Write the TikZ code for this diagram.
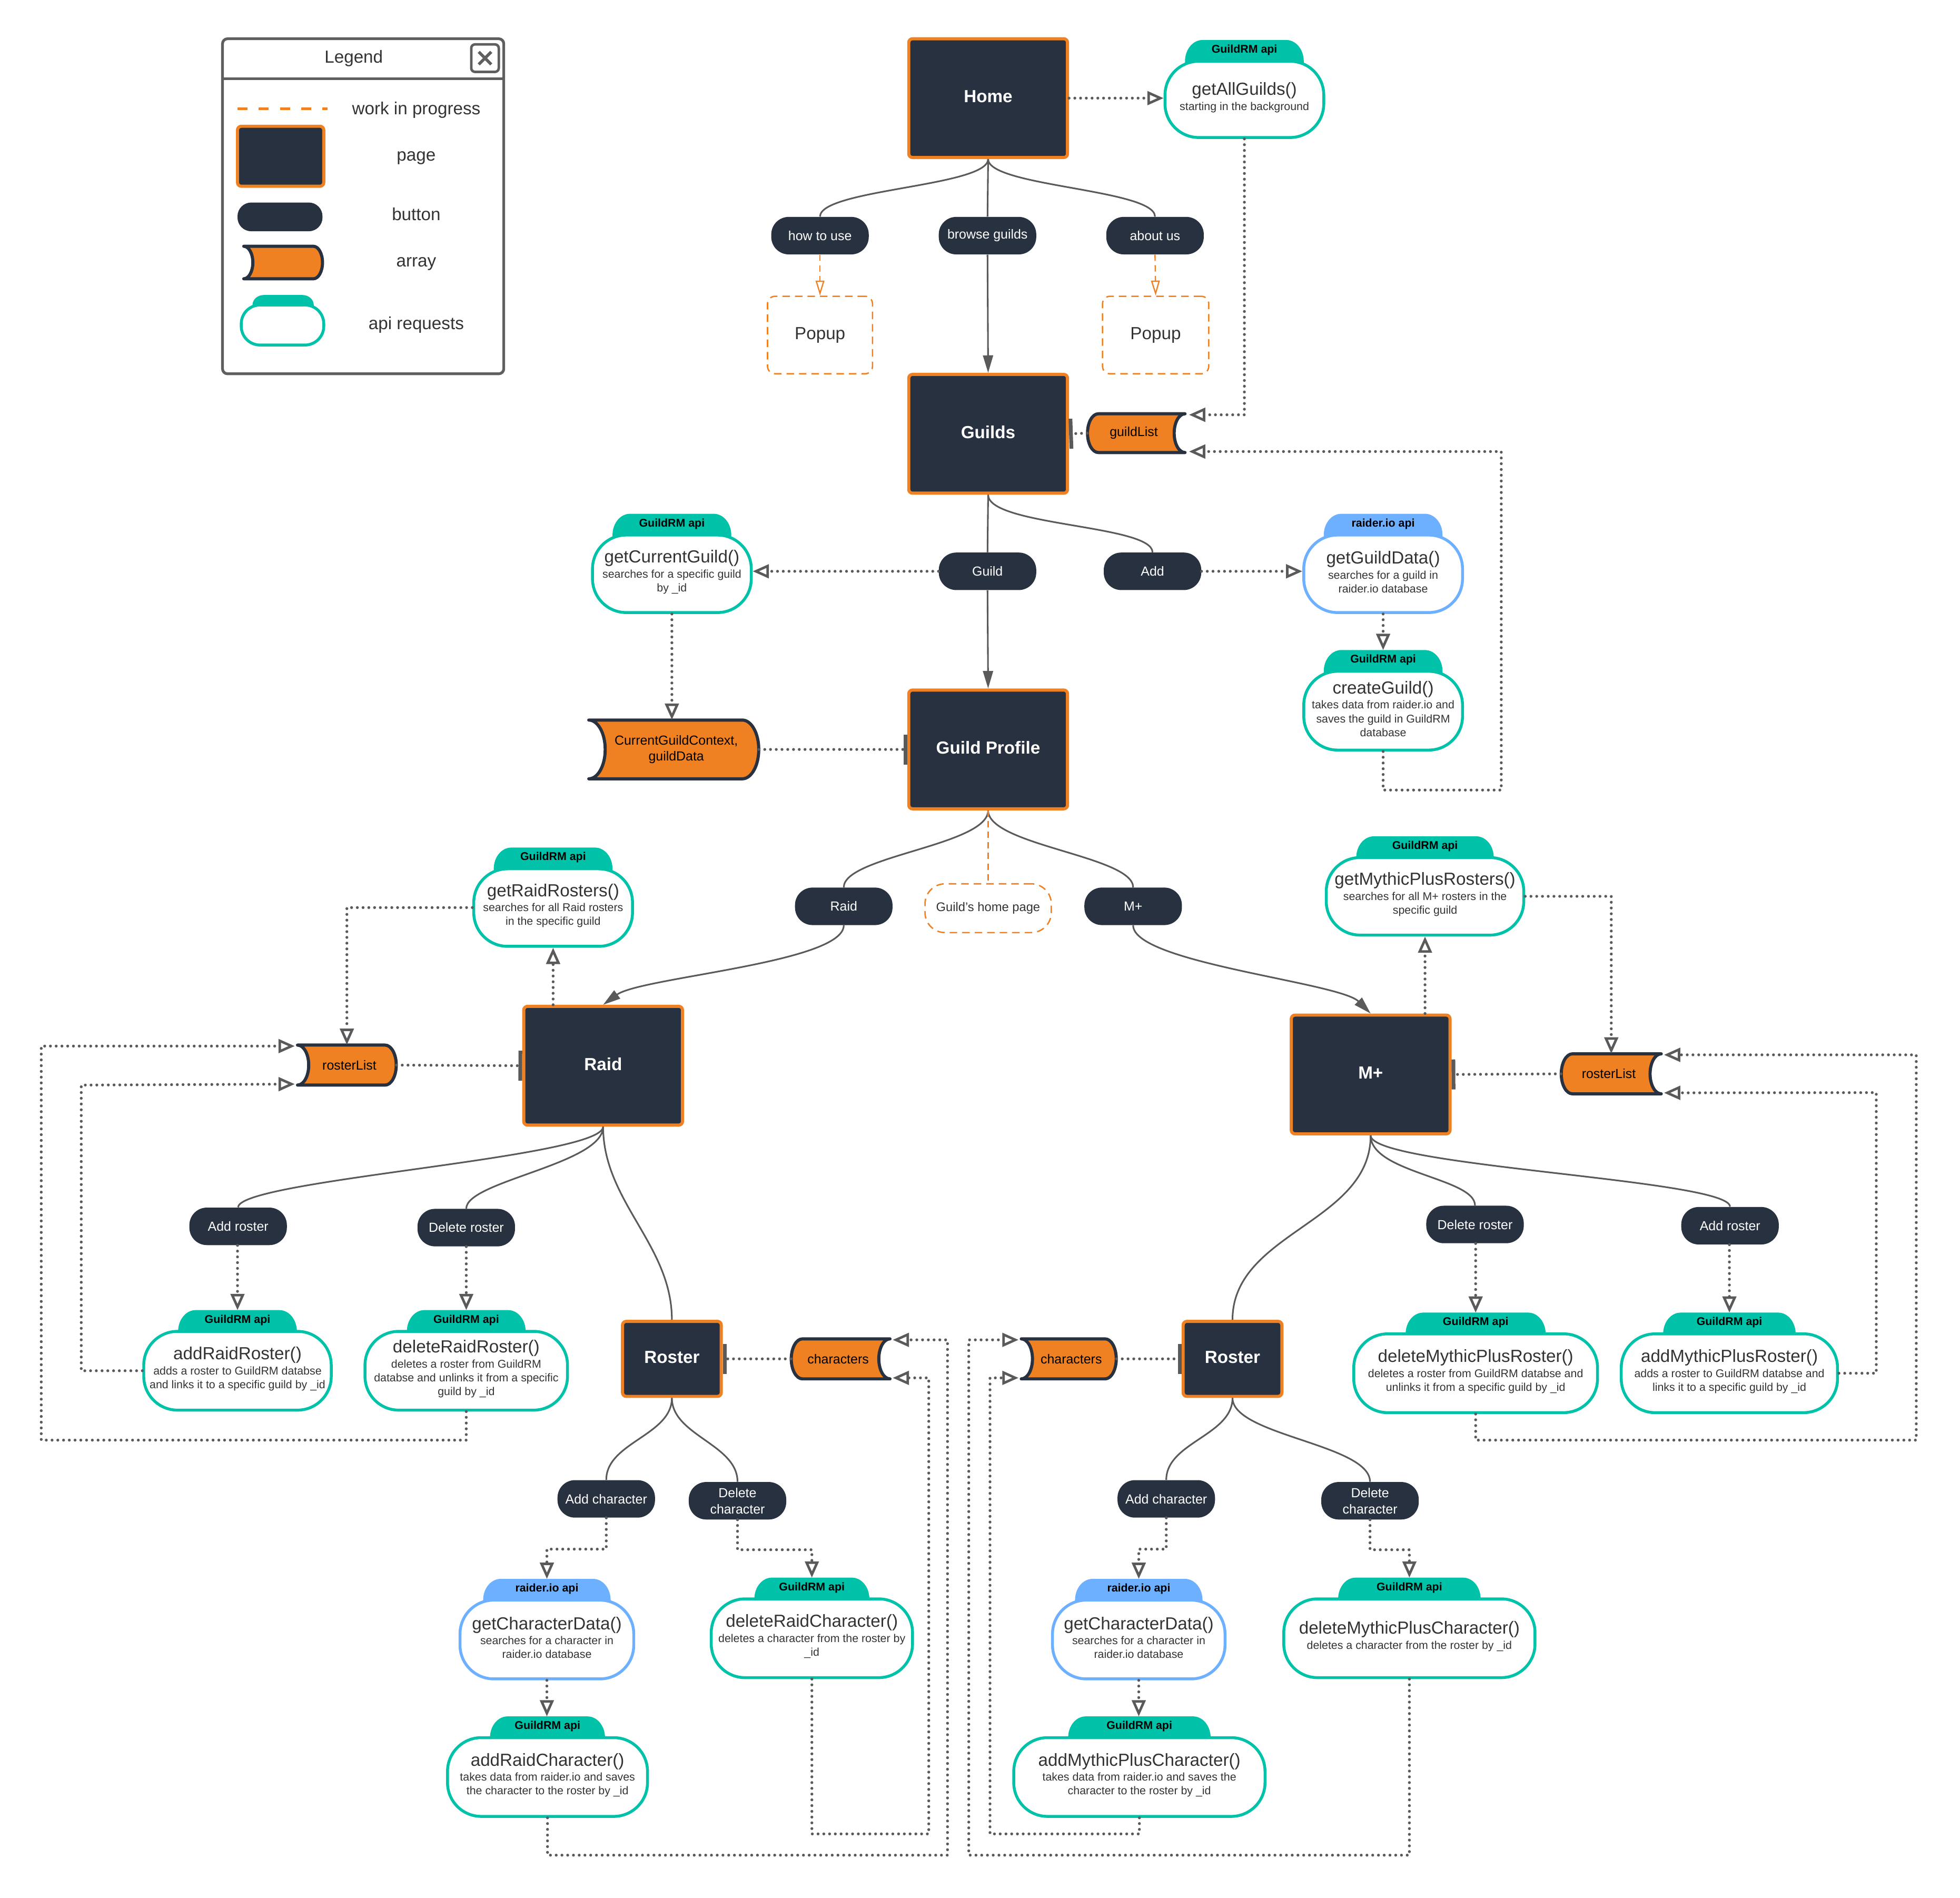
\documentclass[tikz,border=0pt]{standalone}
\usepackage{fontspec}
\setmainfont{Liberation Sans}
\usetikzlibrary{arrows.meta,calc}

\definecolor{navy}{HTML}{283140}
\definecolor{orng}{HTML}{F08122}
\definecolor{apiteal}{HTML}{00C2A8}
\definecolor{apiblue}{HTML}{6DB0FF}
\definecolor{lineg}{HTML}{5A5A5A}
\definecolor{lgray}{HTML}{5F5F5F}
\definecolor{txt}{HTML}{333333}

\newcommand\fTitle{\fontsize{14}{16}\selectfont}
\newcommand\fDesc{\fontsize{9}{11}\selectfont}
\newcommand\fTab{\fontsize{9}{10}\selectfont\bfseries}
\newcommand\fBtn{\fontsize{10.5}{13}\selectfont}
\newcommand\fPage{\fontsize{14}{16}\selectfont\bfseries}
\newcommand\fLeg{\fontsize{14}{16}\selectfont}
\newcommand\fArr{\fontsize{10.5}{13}\selectfont}
\newcommand\fHome{\fontsize{10}{12}\selectfont}

\tikzset{
  page/.style={fill=navy, draw=orng, line width=2.5pt, rounded corners=3pt, text=white,
    font=\fPage, inner sep=0pt, text depth=3pt},
  bigpage/.style={page, minimum width=127pt, minimum height=95pt},
  smallpage/.style={page, minimum width=79pt, minimum height=60pt},
  btn/.style={fill=navy, text=white, rounded corners=14pt, minimum width=78pt,
    minimum height=30pt, inner sep=0pt, font=\fBtn, align=center},
  popup/.style={draw=orng, line width=1.1pt, dash pattern=on 6pt off 4pt, rounded corners=6pt,
    text=txt, font=\fLeg, inner sep=0pt},
  conn/.style={draw=lineg, line width=1.3pt},
  sarrow/.style={-{Triangle[length=14pt,width=8pt]}},
  dotline/.style={draw=lineg, line width=2.3pt, line cap=round, dash pattern=on 0pt off 4.6pt},
  oarrow/.style={-{Triangle[fill=white,length=13pt,width=11pt,line width=2pt]}},
  endbar/.style={-{Bar[width=24pt,line width=3pt]}},
  wip/.style={draw=orng, line width=1pt, dash pattern=on 5pt off 3.5pt},
  wiparrow/.style={-{Triangle[fill=white,length=12pt,width=7pt,line width=1pt]}},
  arrshape/.style={fill=orng, draw=navy, line width=2.5pt, line join=round},
  arrtext/.style={inner sep=0pt, font=\fArr, text=black, align=center},
  apitext/.style={inner sep=0pt, font=\fDesc, text=txt, align=center},
  tabtext/.style={inner sep=0pt, font=\fTab, text=black},
  legtext/.style={inner sep=0pt, font=\fLeg, text=txt, text height=10pt, text depth=3pt, yshift=-2pt},
}

% api request: name, centre, width, height, tab width, colour, tab label, function, description
\newcommand\apinode[9]{%
  \fill[#6] ($(#2)+(-0.5*#5,0.5*#4-8)$) -- ($(#2)+(-0.5*#5,0.5*#4)$)
    arc[start angle=180,end angle=90,x radius=14,y radius=17]
    -- ($(#2)+(0.5*#5-14,0.5*#4+17)$)
    arc[start angle=90,end angle=0,x radius=14,y radius=17]
    -- ($(#2)+(0.5*#5,0.5*#4-8)$) -- cycle;
  \node[draw=#6, fill=white, line width=2.3pt, rounded corners=27pt, minimum width=#3pt,
    minimum height=#4pt, inner sep=0pt] (#1) at (#2) {};
  \node[tabtext] (#1-lbl) at ($(#2)+(0,0.5*#4+9)$) {#7};
  \node[apitext] (#1-txt) at ($(#2)+(0,1.5)$) {{\fTitle #8}\\[1pt]#9};
  \coordinate (#1-tab) at ($(#2)+(0,0.5*#4+17)$);
}

% array, hollow on the left and rounded on the right
\newcommand\arrL[5]{%
  \path[arrshape] ($(#2)+(-0.5*#3,0.5*#4)$) -- ($(#2)+(0.5*#3-0.28*#4,0.5*#4)$)
    arc[start angle=90,end angle=-90,x radius=0.28*#4,y radius=0.5*#4]
    -- ($(#2)+(-0.5*#3,-0.5*#4)$)
    arc[start angle=-90,end angle=90,x radius=0.28*#4,y radius=0.5*#4] -- cycle;
  \node[inner sep=0pt, minimum width=#3pt, minimum height=#4pt] (#1) at (#2) {};
  \node[arrtext] (#1-txt) at ($(#2)+(2,0)$) {#5};
}

% array, rounded on the left and hollow on the right
\newcommand\arrR[5]{%
  \path[arrshape] ($(#2)+(0.5*#3,0.5*#4)$) -- ($(#2)+(-0.5*#3+0.28*#4,0.5*#4)$)
    arc[start angle=90,end angle=270,x radius=0.28*#4,y radius=0.5*#4]
    -- ($(#2)+(0.5*#3,-0.5*#4)$)
    arc[start angle=270,end angle=90,x radius=0.28*#4,y radius=0.5*#4] -- cycle;
  \node[inner sep=0pt, minimum width=#3pt, minimum height=#4pt] (#1) at (#2) {};
  \node[arrtext] (#1-txt) at ($(#2)+(-2,0)$) {#5};
}

\begin{document}
\begin{tikzpicture}[x=1pt,y=1pt]
\useasboundingbox[fill=white] (0,0) rectangle (1568,-1518);

% ---------- legend ----------
\node[draw=lgray, line width=2.2pt, rounded corners=4pt, minimum width=225pt,
  minimum height=268pt, inner sep=0pt] (legend) at (290.5,-165) {};
\draw[lgray, line width=2.2pt] (178,-63) -- (403,-63);
\node[legtext] (legtitle) at (283,-45) {Legend};
\node[draw=lgray, line width=2pt, rounded corners=3pt, minimum size=22pt, inner sep=0pt]
  (legclose) at (388,-46.5) {};
\draw[lgray, line width=2.4pt] ($(legclose.center)+(-5,5)$) -- ($(legclose.center)+(5,-5)$);
\draw[lgray, line width=2.4pt] ($(legclose.center)+(-5,-5)$) -- ($(legclose.center)+(5,5)$);
\coordinate (wipA) at (190,-87);
\coordinate (wipB) at (262,-87);
\draw[orng, line width=2pt, dash pattern=on 8pt off 9pt] (wipA) -- (wipB);
\node[legtext] (legwip) at (333,-86) {work in progress};
\node[page, minimum width=69pt, minimum height=48pt] (legpage) at (224.5,-125) {};
\node[legtext] (legpagetxt) at (333,-123) {page};
\node[btn, minimum width=68pt, minimum height=23pt, rounded corners=11pt] (legbtn) at (224,-173.5) {};
\node[legtext] (legbtntxt) at (333,-171) {button};
\arrL{legarr}{226.5,-210}{63}{26}{}
\node[legtext] (legarrtxt) at (333,-208) {array};
\fill[apiteal] (202,-250) -- (202,-244) arc[start angle=180,end angle=90,x radius=9,y radius=8]
  -- (242,-236) arc[start angle=90,end angle=0,x radius=9,y radius=8] -- (251,-250) -- cycle;
\node[draw=apiteal, fill=white, line width=2.3pt, rounded corners=15pt, minimum width=66pt,
  minimum height=32pt, inner sep=0pt] (legapi) at (226,-260) {};
\node[legtext] (legapitxt) at (333,-258) {api requests};

% ---------- pages ----------
\node[bigpage] (home) at (790.5,-78.5) {Home};
\node[bigpage] (guilds) at (790.5,-347) {Guilds};
\node[bigpage] (gprofile) at (790.5,-599.5) {Guild Profile};
\node[bigpage] (raid) at (482.5,-852.5) {Raid};
\node[bigpage] (mplus) at (1096.5,-859.5) {M+};
\node[smallpage] (rosterL) at (537.5,-1087) {Roster};
\node[smallpage] (rosterR) at (986,-1087) {Roster};

% ---------- buttons ----------
\node[btn] (howto) at (656,-188.5) {how to use};
\node[btn] (browse) at (790,-188.5) {browse guilds};
\node[btn] (about) at (924,-188.5) {about us};
\node[btn] (bguild) at (790,-457) {Guild};
\node[btn] (badd) at (922,-457) {Add};
\node[btn] (braid) at (675,-725) {Raid};
\node[btn] (bmplus) at (906.5,-725) {M+};
\node[btn] (baddrL) at (190.5,-981) {Add roster};
\node[btn] (bdelrL) at (373,-982) {Delete roster};
\node[btn] (bdelrR) at (1180,-979.5) {Delete roster};
\node[btn] (baddrR) at (1384,-980.5) {Add roster};
\node[btn] (baddcL) at (485,-1199) {Add character};
\node[btn] (bdelcL) at (590,-1200.5) {Delete\\character};
\node[btn] (baddcR) at (933,-1199) {Add character};
\node[btn] (bdelcR) at (1096,-1200.5) {Delete\\character};

% ---------- work in progress ----------
\node[popup, minimum width=84pt, minimum height=62pt] (popL) at (656,-268) {Popup};
\node[popup, minimum width=85pt, minimum height=62pt] (popR) at (924.5,-268) {Popup};
\node[popup, rounded corners=16pt, minimum width=101pt, minimum height=39pt, font=\fHome]
  (ghp) at (790.5,-726.5) {Guild's home page};

% ---------- arrays ----------
\arrR{guildList}{909,-346.5}{78}{31}{guildList}
\arrL{cgc}{539,-599.5}{136}{47}{CurrentGuildContext,\\guildData}
\arrL{rlL}{277.5,-852}{79}{32}{rosterList}
\arrR{rlR}{1289,-859}{80}{32}{rosterList}
\arrR{chL}{672.5,-1087}{79}{32}{characters}
\arrL{chR}{855,-1087}{76}{32}{characters}

% ---------- api requests ----------
\apinode{gAll}{995.5,-79.5}{127}{61}{95}{apiteal}{GuildRM api}{getAllGuilds()}{starting in the background}
\apinode{gCur}{537.5,-459}{127}{62}{95}{apiteal}{GuildRM api}{getCurrentGuild()}{searches for a specific guild\\by \_id}
\apinode{gGD}{1106.5,-459}{127}{62}{95}{apiblue}{raider.io api}{getGuildData()}{searches for a guild in\\raider.io database}
\apinode{cG}{1106.5,-568.5}{127}{63}{95}{apiteal}{GuildRM api}{createGuild()}{takes data from raider.io and\\saves the guild in GuildRM\\database}
\apinode{gRR}{442.5,-726}{127}{62}{95}{apiteal}{GuildRM api}{getRaidRosters()}{searches for all Raid rosters\\in the specific guild}
\apinode{gMR}{1140,-717}{158}{62}{110}{apiteal}{GuildRM api}{getMythicPlusRosters()}{searches for all M+ rosters in the\\specific guild}
\apinode{aRR}{190,-1096.5}{150}{63}{95}{apiteal}{GuildRM api}{addRaidRoster()}{adds a roster to GuildRM databse\\and links it to a specific guild by \_id}
\apinode{dRR}{373,-1096.5}{162}{63}{95}{apiteal}{GuildRM api}{deleteRaidRoster()}{deletes a roster from GuildRM\\databse and unlinks it from a specific\\guild by \_id}
\apinode{dMR}{1180.5,-1098.5}{195}{63}{112}{apiteal}{GuildRM api}{deleteMythicPlusRoster()}{deletes a roster from GuildRM databse and\\unlinks it from a specific guild by \_id}
\apinode{aMR}{1383.5,-1098.5}{173}{63}{106}{apiteal}{GuildRM api}{addMythicPlusRoster()}{adds a roster to GuildRM databse and\\links it to a specific guild by \_id}
\apinode{gCDL}{437.5,-1311.5}{139}{63}{102}{apiblue}{raider.io api}{getCharacterData()}{searches for a character in\\raider.io database}
\apinode{dRC}{649.5,-1310.5}{161}{63}{92}{apiteal}{GuildRM api}{deleteRaidCharacter()}{deletes a character from the roster by\\\_id}
\apinode{aRC}{438,-1421.5}{160}{63}{92}{apiteal}{GuildRM api}{addRaidCharacter()}{takes data from raider.io and saves\\the character to the roster by \_id}
\apinode{gCDR}{911,-1311.5}{138}{63}{102}{apiblue}{raider.io api}{getCharacterData()}{searches for a character in\\raider.io database}
\apinode{dMC}{1127.5,-1310.5}{201}{63}{114}{apiteal}{GuildRM api}{deleteMythicPlusCharacter()}{deletes a character from the roster by \_id}
\apinode{aMC}{911.5,-1421.5}{201}{63}{114}{apiteal}{GuildRM api}{addMythicPlusCharacter()}{takes data from raider.io and saves the\\character to the roster by \_id}

% ---------- navigation ----------
\draw[conn] (home.south) .. controls +(0,-22) and +(0,22) .. (howto.north);
\draw[conn] (home.south) -- (browse.north);
\draw[conn] (home.south) .. controls +(0,-22) and +(0,22) .. (about.north);
\draw[conn,sarrow] (browse.south) -- (guilds.north);
\draw[conn] (guilds.south) -- (bguild.north);
\draw[conn] (guilds.south) .. controls +(0,-25) and +(0,22) .. (badd.north);
\draw[conn,sarrow] (bguild.south) -- (gprofile.north);
\draw[conn] (gprofile.south) .. controls +(0,-28) and +(0,25) .. (braid.north);
\draw[conn] (gprofile.south) .. controls +(0,-28) and +(0,25) .. (bmplus.north);
\draw[wip] (gprofile.south) -- (ghp.north);
\draw[conn,sarrow] (braid.south) .. controls +(0,-30) and +(30,22) .. (raid.north);
\draw[conn,sarrow] (bmplus.south) .. controls +(0,-30) and +(-25,25) .. (mplus.north);
\draw[conn] (raid.south) .. controls +(0,-25) and +(0,22) .. (baddrL.north);
\draw[conn] (raid.south) .. controls +(0,-30) and +(0,22) .. (bdelrL.north);
\draw[conn] (raid.south) .. controls +(0,-60) and +(0,60) .. (rosterL.north);
\draw[conn] (mplus.south) .. controls +(0,-70) and +(0,70) .. (rosterR.north);
\draw[conn] (mplus.south) .. controls +(0,-30) and +(0,22) .. (bdelrR.north);
\draw[conn] (mplus.south) .. controls +(0,-25) and +(0,22) .. (baddrR.north);
\draw[conn] (rosterL.south) .. controls +(0,-30) and +(0,30) .. (baddcL.north);
\draw[conn] (rosterL.south) .. controls +(0,-30) and +(0,30) .. (bdelcL.north);
\draw[conn] (rosterR.south) .. controls +(0,-30) and +(0,30) .. (baddcR.north);
\draw[conn] (rosterR.south) .. controls +(0,-30) and +(0,30) .. (bdelcR.north);
\draw[wip,wiparrow] (howto.south) -- (popL.north);
\draw[wip,wiparrow] (about.south) -- (popR.north);

% ---------- data flow ----------
\draw[dotline,oarrow] (home.east) -- (home.east -| gAll.west);
\draw[dotline,oarrow] (gAll.south) |- ($(guildList.north east)+(3,-1)$);
\draw[dotline,endbar] (guildList.west) -- (guilds.east);
\draw[dotline,oarrow] (bguild.west) -- (bguild.west -| gCur.east);
\draw[dotline,oarrow] (badd.east) -- (badd.east -| gGD.west);
\draw[dotline,oarrow] (gCur.south) -- (gCur.south |- cgc.north);
\draw[dotline,endbar] (cgc.east) -- (gprofile.west);
\draw[dotline,oarrow] (gGD.south) -- (cG-tab);
\draw[dotline,oarrow] (cG.south) |- (1201,-632) |- ($(guildList.south east)+(3,1)$);

\draw[dotline,oarrow] (gRR.west) -| (rlL.north);
\draw[dotline,oarrow] (raid.north -| gRR.south) -- (gRR.south);
\draw[dotline,endbar] (rlL.east) -- (raid.west);
\draw[dotline,oarrow] (aRR-tab |- baddrL.south) -- (aRR-tab);
\draw[dotline,oarrow] (dRR-tab |- bdelrL.south) -- (dRR-tab);
\draw[dotline,oarrow] (aRR.west) -| (65,-868) -- ($(rlL.south west)+(-2,1)$);
\draw[dotline,oarrow] (dRR.south) |- (33,-1152) |- ($(rlL.north west)+(-2,-1)$);

\draw[dotline,oarrow] (mplus.north -| gMR.south) -- (gMR.south);
\draw[dotline,oarrow] (gMR.east) -| (rlR.north);
\draw[dotline,endbar] (rlR.west) -- (mplus.east);
\draw[dotline,oarrow] (dMR-tab |- bdelrR.south) -- (dMR-tab);
\draw[dotline,oarrow] (aMR-tab |- baddrR.south) -- (aMR-tab);
\draw[dotline,oarrow] (aMR.east) -| (1501,-874) -- ($(rlR.south east)+(2,1)$);
\draw[dotline,oarrow] (dMR.south) |- (1533,-1152) |- ($(rlR.north east)+(2,-1)$);

\draw[dotline,endbar] (chL.west) -- (rosterL.east);
\draw[dotline,oarrow] (baddcL.south) -- ++(0,-25) -| (gCDL-tab);
\draw[dotline,oarrow] (bdelcL.south) -- ++(0,-24) -| (dRC-tab);
\draw[dotline,oarrow] (gCDL.south) -- (gCDL.south |- aRC-tab);
\draw[dotline,oarrow] (dRC.south) |- (743,-1467) |- ($(chL.south east)+(2,1)$);
\draw[dotline,oarrow] (aRC.south) |- (758,-1484) |- ($(chL.north east)+(2,-1)$);

\draw[dotline,endbar] (chR.east) -- (rosterR.west);
\draw[dotline,oarrow] (baddcR.south) -- ++(0,-25) -| (gCDR-tab);
\draw[dotline,oarrow] (bdelcR.south) -- ++(0,-24) -| (dMC-tab);
\draw[dotline,oarrow] (gCDR.south) -- (gCDR.south |- aMC-tab);
\draw[dotline,oarrow] (aMC.south) |- (792,-1467) |- ($(chR.south west)+(-2,1)$);
\draw[dotline,oarrow] (dMC.south) |- (775,-1484) |- ($(chR.north west)+(-2,-1)$);
\end{tikzpicture}
\end{document}
